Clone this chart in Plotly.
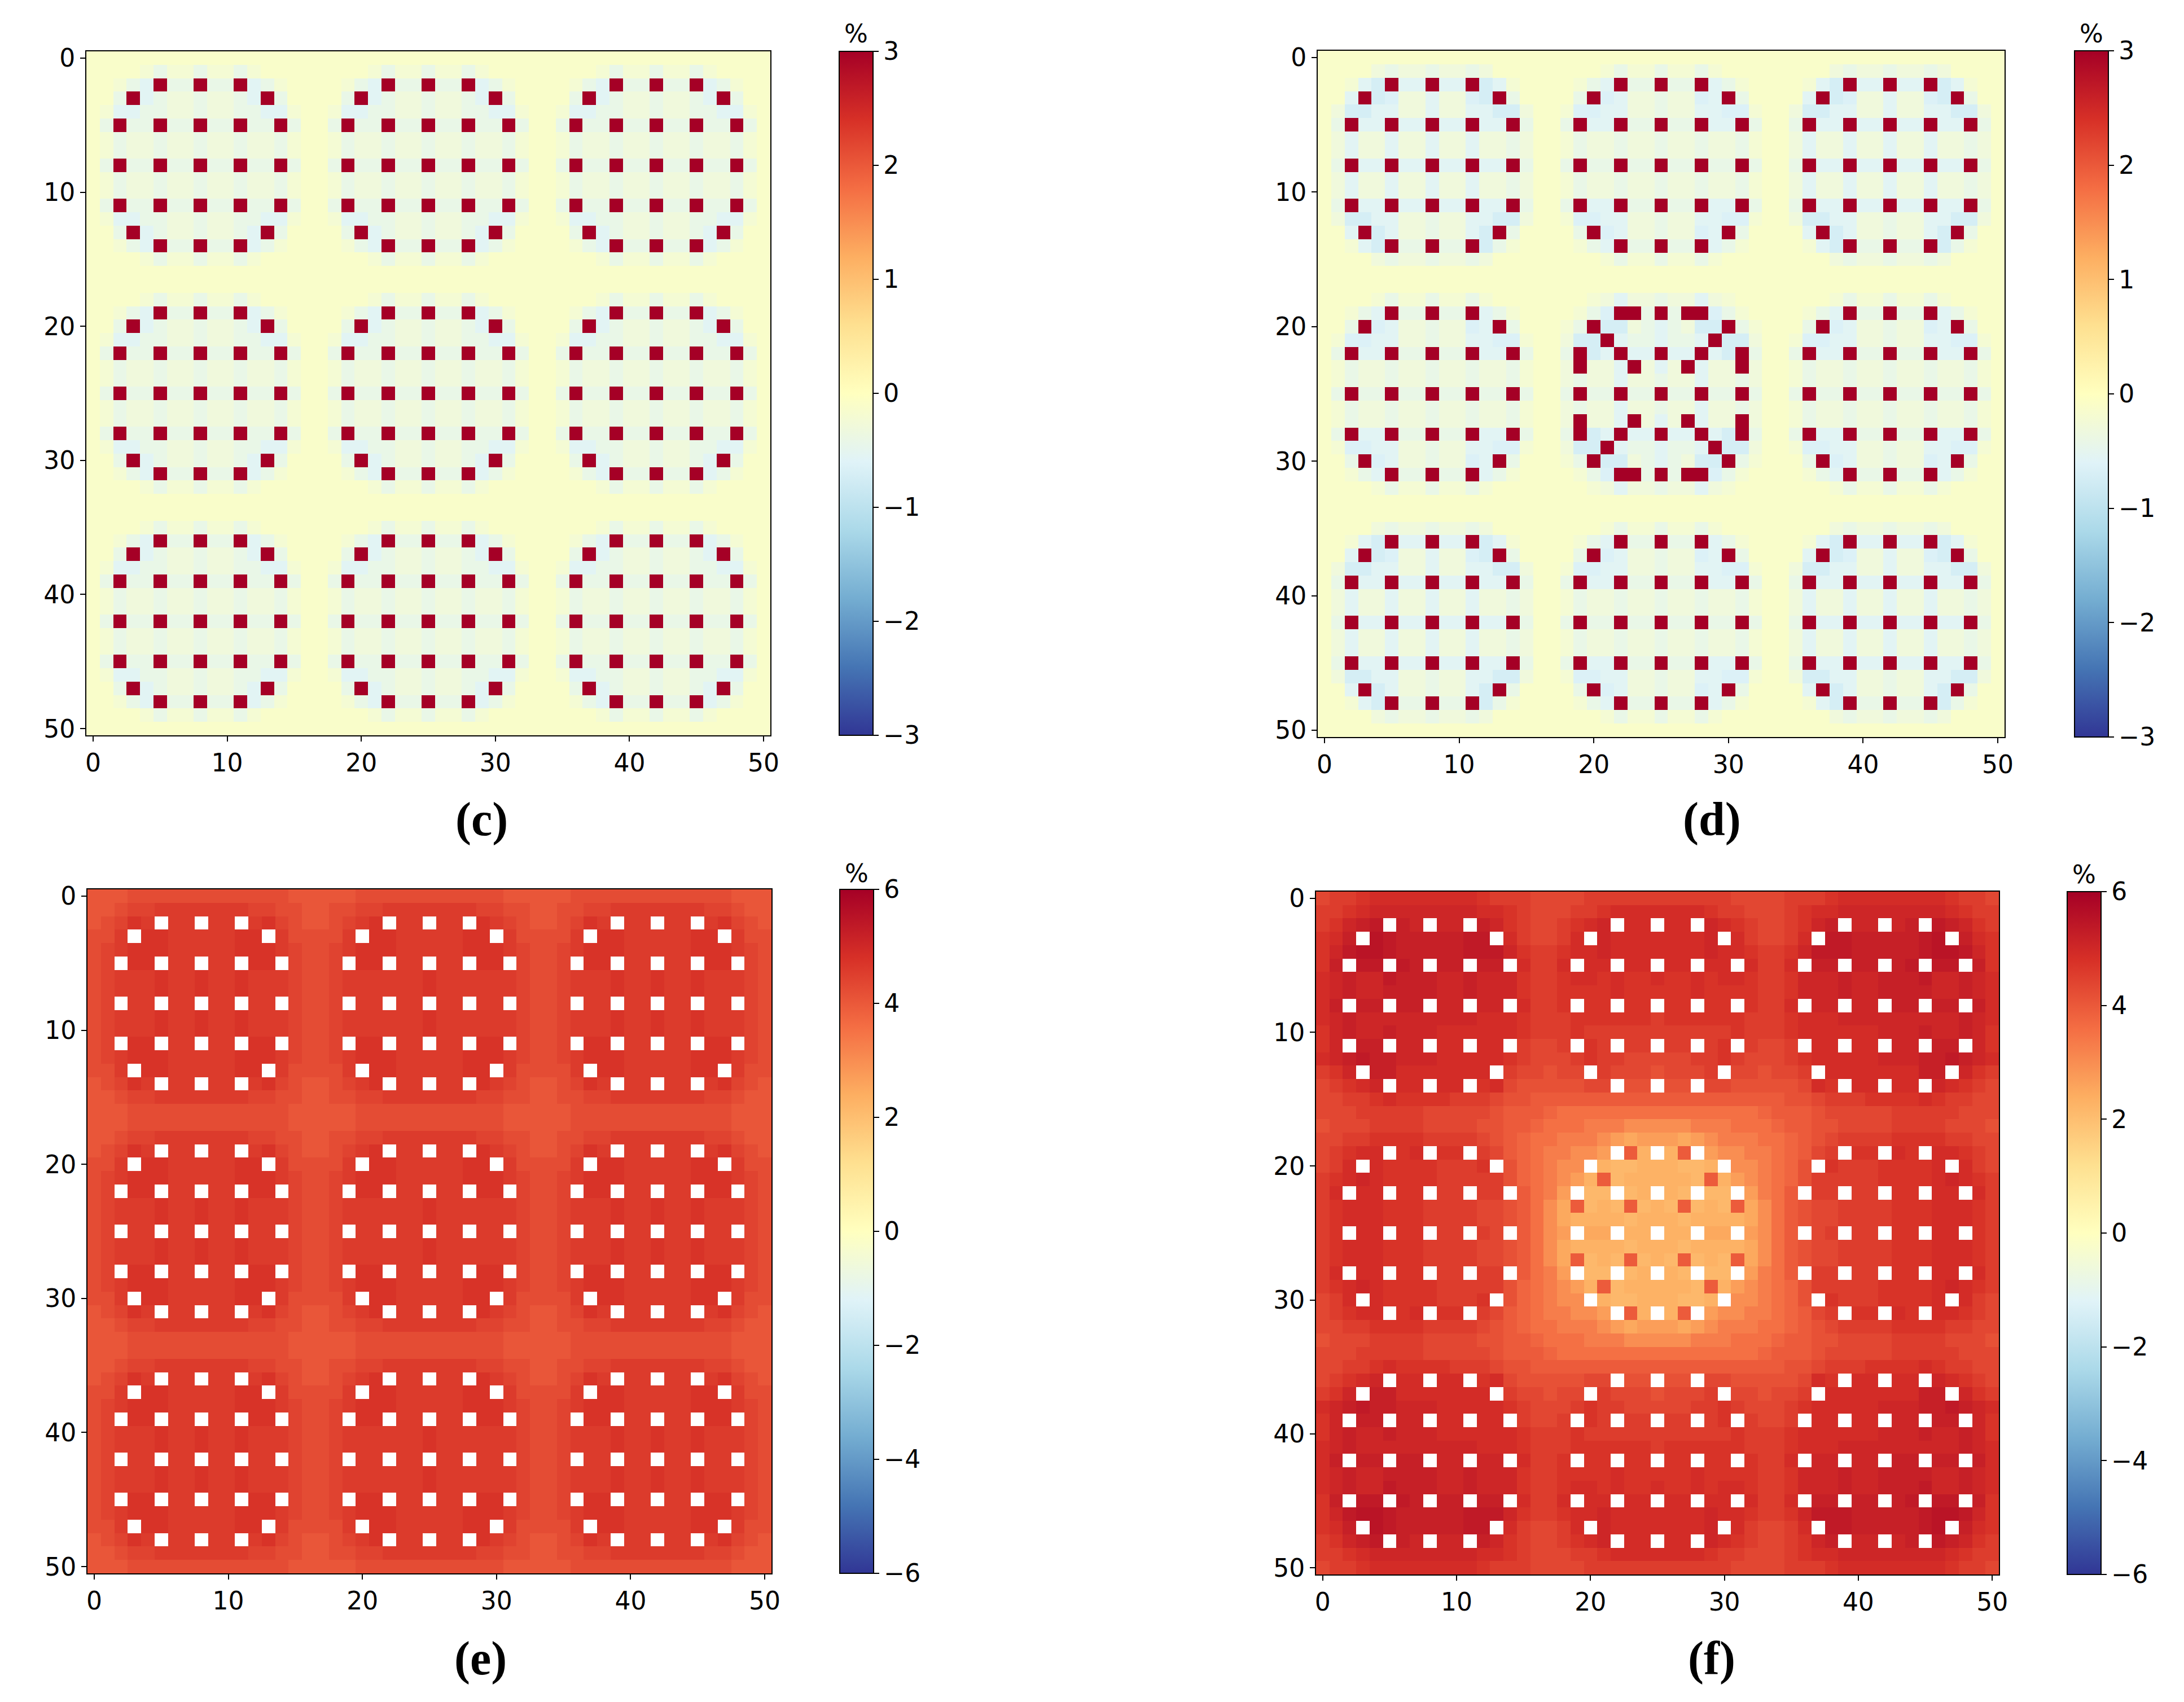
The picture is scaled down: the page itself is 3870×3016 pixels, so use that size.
import plotly.graph_objects as go

W, H = 3870, 3016

# value read for each code letter (percent)
NEG_LEVELS = {".": -0.12, "a": -0.22, "b": -0.3, "c": -0.42, "d": -0.56, "e": -0.65, "f": -0.72, "X": 3.0}
POS_LEVELS = {"A": 5.5, "B": 5.35, "C": 5.2, "D": 5.05, "E": 4.9, "F": 4.75, "G": 4.55, "H": 4.35, "I": 4.15,
              "J": 3.95, "K": 3.75, "L": 3.55, "M": 3.3, "O": 3.0, "P": 2.7, "Q": 2.5, "R": 2.3, "S": 2.15, "N": None}
E_LEVELS = {"F": 4.75, "G": 4.58, "H": 4.42, "I": 4.25, "J": 4.05, "N": None}

TILE_C = [
    ".................",
    "....acaacaaca....",
    "..acdXccXccXdca..",
    "..cXdcbbcbbcdXc..",
    ".addccbbcbbccdda.",
    ".cXccXccXccXccXc.",
    ".acbbcbbcbbcbbca.",
    ".acbbcbbcbbcbbca.",
    ".cXccXccXccXccXc.",
    ".acbbcbbcbbcbbca.",
    ".acbbcbbcbbcbbca.",
    ".cXccXccXccXccXc.",
    ".addccbbcbbccdda.",
    "..cXdcbbcbbcdXc..",
    "..acdXccXccXdca..",
    "....acaacaaca....",
    ".................",
]
TILE_D_CORNER = [
    ".................",
    "....bcbbcbbcb....",
    "..adfXddXddXfda..",
    "..dXfebbdbbefXc..",
    ".bffddbbdbbddffb.",
    ".cXddXddXddXddXc.",
    ".bdbbdbbdbbdbbcb.",
    ".bdbbdbbdbbdbbcb.",
    ".cXddXddXddXddXc.",
    ".bdbbdbbdbbdbbcb.",
    ".bdbbdbbdbbdbbcb.",
    ".cXddXddXddXddXc.",
    ".bffddbbcbbddffb.",
    "..dXfdbbcbbdfXc..",
    "..adfXccXccXfca..",
    "....bcbbcbbcb....",
    ".................",
]
TILE_D_EDGE = [
    ".................",
    "....acaacaaca....",
    "..acdXccXccXdca..",
    "..cXedbbcbbedXc..",
    ".aeeddbbcbbddeea.",
    ".cXddXccXccXddXc.",
    ".acbbcbbcbbcbbca.",
    ".acbbcbbcbbcbbca.",
    ".cXccXccXccXccXc.",
    ".acbbcbbcbbcbbca.",
    ".acbbcbbcbbcbbca.",
    ".cXddXccXccXddXc.",
    ".aeeddbbcbbddeea.",
    "..cXedbbcbbedXc..",
    "..acdXccXccXdca..",
    "....acaacaaca....",
    ".................",
]
TILE_D_CENTER = [
    ".................",
    "...abdbbcbbdba...",
    "..aceXXcXcXXeca..",
    ".acXffbcdcbffXca.",
    ".bffXdccdccdXffb.",
    ".cXfdXddXddXdfXc.",
    ".bXbbdXbdbXdbbXb.",
    ".bcbbdbbcbbdbbcb.",
    ".cXccXccXccXccXc.",
    ".bcbbdbbcbbdbbcb.",
    ".bXbbdXbdbXdbbXb.",
    ".cXfdXddXddXdfXc.",
    ".bffXdccdccdXffb.",
    ".acXffbcdcbffXca.",
    "..aceXXcXcXXeca..",
    "...abdbbcbbdba...",
    ".................",
]
BLOCKS_C = [[TILE_C, TILE_C, TILE_C], [TILE_C, TILE_C, TILE_C], [TILE_C, TILE_C, TILE_C]]
BLOCKS_D = [[TILE_D_CORNER, TILE_D_EDGE, TILE_D_CORNER],
            [TILE_D_EDGE, TILE_D_CENTER, TILE_D_EDGE],
            [TILE_D_CORNER, TILE_D_EDGE, TILE_D_CORNER]]

# upper-left quadrants (rows 0-25, columns 0-25); the panels are mirror symmetric about cell (25, 25)
QUADRANT_E = [
    "JJJIIIIIIIIIIIIJJJJJIIIIII",
    "JJIHHGGGGGGGHHIIJJIIHHGGGG",
    "JIHFGNGGNGGNGFHIJJIHGFNGGN",
    "IIGNFFGGGGGFFNGIIIIGNFFGGG",
    "IHGFFFGGGGGFFFGHIIHGFFFGGG",
    "IHNFFNGGNGGNFFNHIIHNFFNGGN",
    "IHGGGFGGFGGFGGGHIIHGGGGGGF",
    "IHGGGFGGFGGFGGGHIIHGGGGGGF",
    "IHNGGNGGNGGNGGNHIIHNGGNGGN",
    "IHGGGFGGFGGFGGGHIIHGGGGGGF",
    "IHGGGFGGFGGFGGGHIIHGGGGGGF",
    "IHNFFNGGNGGNFFNHIIHNFFNGGN",
    "IHGFFFGGGGGFFFGHIIHGFFFGGG",
    "IIGNFFGGGGGFFNGIIIIGNFFGGG",
    "JIHFGNGGNGGNGFHIJJIHGFNGGN",
    "JJIHHGGGGGGGHHIIJJIIHHGGGG",
    "JJJIIIIIIIIIIIIJJJJJIIIIII",
    "JJJIIIIIIIIIIIIJJJJJIIIIII",
    "JJIHHGGGGGGGHHIIJJIIHHGGGG",
    "JIHFGNGGNGGNGFHIJJIHGFNGGN",
    "IIGNFFGGGGGFFNGIIIIGNFFGGG",
    "IHGFFFGGGGGFFFGHIIHGFFFGGG",
    "IHNFFNGGNGGNFFNHIIHNFFNGGN",
    "IHGGGFGGFGGFGGGHIIHGGGGGGF",
    "IHGGGFGGFGGFGGGHIIHGGGGGGF",
    "IHNGGNGGNGGNGGNHIIHNGGNGGN",
]
QUADRANT_F = [
    "HGGFEEEEEEEEFGGGHHHHGGGGGG",
    "GGFEDDDDDDDDEEFGHHHGGFEEEE",
    "GFDCBNCDNDDNCDFGHHGFEDNEEN",
    "FECNABCCCCCBBNEGHHGENDEEEE",
    "FDBAABCCCCCBBBDFGGFEEDEEEE",
    "FCNBBNBCNCCNCCNEGGENEENEEN",
    "EDCDDBCCCDDCDDDFGGFEEFEFFE",
    "EDCDDCCCCDDCDDDFGGFFFFEFFF",
    "ECNCCNCCNDDNDDNEGGFNFFNFFN",
    "EDCDDDDDDDDDEEEFGGGFFFFFFG",
    "FDCDDCDDDEEEEEEFGGGFGGGGGG",
    "FDNCCNDDNEENEENGHHGNFGNGGN",
    "EDCBCCDDDEEEEEFGHHHGFGGHHH",
    "GFDNCCEEEEEEENGHHIHHNGHHHI",
    "HGFEDNEENEENFEHIIIIIHHNIIN",
    "HHGGFEFFFFGGGHIIJJJJJJJJJJ",
    "HHHGGGGGHHHHHIJJJKLLLLLLLL",
    "IHHHGGGGHHHHIIJJKLLLMMMOOO",
    "HHGGFFFFGGGGHIJKLLMMMOPQPP",
    "HGFEENFENFFNGHJKLMMOOPNJRN",
    "HGENEFFFFGGGFNIKLMOONRSSRR",
    "GFEDEFFFFGGGGGIKLMOPRJSRRR",
    "GENEENFFNGGNGGNJLMPNSSNSRN",
    "GFEEEFFFGGGGHHIJLOQJSRSJSR",
    "GFEEEFFFGGGGHHIJLOQRRRRSRR",
    "GFNEENFFNGGNGHNJLOPNQQNRRN",
]

AXIS_TICKS = [0, 10, 20, 30, 40, 50]
CB_TICKS_3 = [-3, -2, -1, 0, 1, 2, 3]
CB_TICKS_6 = [-6, -4, -2, 0, 2, 4, 6]
CAPTIONS = ["(c)", "(d)", "(e)", "(f)"]


def from_blocks(blocks):
    rows = []
    for block_row in blocks:
        for i in range(17):
            rows.append("".join(t[i] for t in block_row))
    return rows


def from_quadrant(quadrant):
    top = [q + q[-2::-1] for q in quadrant]
    return top + top[-2::-1]


def to_values(rows, levels):
    return [[levels[ch] for ch in row] for row in rows]


Z_C = to_values(from_blocks(BLOCKS_C), NEG_LEVELS)
Z_D = to_values(from_blocks(BLOCKS_D), NEG_LEVELS)
Z_E = to_values(from_quadrant(QUADRANT_E), E_LEVELS)
Z_F = to_values(from_quadrant(QUADRANT_F), POS_LEVELS)

PANELS = [
    dict(z=Z_C, vmax=3, ticks=CB_TICKS_3, box=(153, 1365, 91, 1303), cb=(1487, 1547, 91, 1303), cap=(853, 1452), pct=60),
    dict(z=Z_D, vmax=3, ticks=CB_TICKS_3, box=(2335, 3552, 90, 1306), cb=(3676, 3736, 90, 1306), cap=(3033, 1452), pct=59),
    dict(z=Z_E, vmax=6, ticks=CB_TICKS_6, box=(155, 1367, 1576, 2788), cb=(1488, 1548, 1576, 2788), cap=(851, 2939), pct=1547),
    dict(z=Z_F, vmax=6, ticks=CB_TICKS_6, box=(2332, 3542, 1580, 2790), cb=(3663, 3723, 1580, 2790), cap=(3033, 2939), pct=1550),
]

FONT = "DejaVu Sans"
TICK_SIZE = 44
fig = go.Figure()
layout = dict(
    width=W, height=H, autosize=False, margin=dict(l=0, r=0, t=0, b=0, pad=0, autoexpand=False),
    paper_bgcolor="white", plot_bgcolor="white", showlegend=False,
    font=dict(family=FONT, size=TICK_SIZE, color="black"), annotations=[],
)
GRID = list(range(51))
for i, p in enumerate(PANELS):
    n = "" if i == 0 else str(i + 1)
    x0, x1, y0, y1 = p["box"]
    cx0, cx1, cy0, cy1 = p["cb"]
    fig.add_trace(go.Heatmap(
        z=p["z"], x=GRID, y=GRID, xaxis=f"x{n}", yaxis=f"y{n}",
        colorscale="RdYlBu_r", zmin=-p["vmax"], zmax=p["vmax"], zsmooth=False, hoverongaps=False,
        colorbar=dict(
            x=cx0 / W, xanchor="left", xpad=0, y=1 - cy0 / H, yanchor="top", ypad=0,
            lenmode="fraction", len=(cy1 - cy0) / H, thicknessmode="pixels", thickness=cx1 - cx0,
            outlinecolor="black", outlinewidth=2, ticks="outside", ticklen=9, tickwidth=2, tickcolor="black",
            tickmode="array", tickvals=p["ticks"], ticktext=[str(t).replace("-", "\u2212") for t in p["ticks"]],
            tickfont=dict(family=FONT, size=TICK_SIZE, color="black"),
        ),
    ))
    axis = dict(showgrid=False, zeroline=False, showline=True, mirror=True, linecolor="black", linewidth=2,
                ticks="outside", ticklen=9, tickwidth=2, tickcolor="black", tickmode="array", tickvals=AXIS_TICKS,
                tickfont=dict(family=FONT, size=TICK_SIZE, color="black"))
    layout[f"xaxis{n}"] = dict(axis, domain=[x0 / W, x1 / W], range=[-0.5, 50.5], anchor=f"y{n}")
    layout[f"yaxis{n}"] = dict(axis, domain=[1 - y1 / H, 1 - y0 / H], range=[50.5, -0.5], anchor=f"x{n}")
    layout["annotations"].append(dict(
        text="%", xref="paper", yref="paper", x=(cx0 + cx1) / 2 / W, y=1 - p["pct"] / H,
        xanchor="center", yanchor="middle", showarrow=False, font=dict(family=FONT, size=TICK_SIZE, color="black")))
    layout["annotations"].append(dict(
        text=f"<b>{CAPTIONS[i]}</b>", xref="paper", yref="paper", x=p["cap"][0] / W, y=1 - p["cap"][1] / H,
        xanchor="center", yanchor="middle", showarrow=False,
        font=dict(family="Liberation Serif", size=84, color="black")))
fig.update_layout(**layout)
fig.write_html("out.html", config={"displayModeBar": False}, post_script="document.body.style.margin='0';")
